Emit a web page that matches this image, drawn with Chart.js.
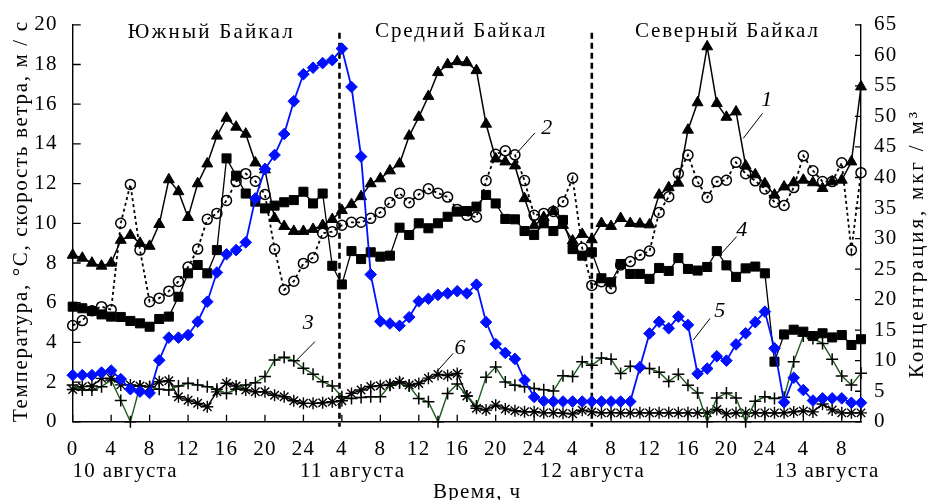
<!DOCTYPE html>
<html lang="ru">
<head>
<meta charset="utf-8">
<title>Байкал, 10–13 августа</title>
<script src="https://cdn.jsdelivr.net/npm/chart.js@4.4.1/dist/chart.umd.min.js"></script>
<style>
  html, body { margin: 0; padding: 0; background: #fff; }
  #wrap { width: 927px; height: 500px; }
</style>
</head>
<body>
<div id="wrap"><canvas id="chart" width="927" height="500"></canvas></div>
<script>
// время, ч (от 0 ч 10 августа)
const hours = [0,1,2,3,4,5,6,7,8,9,10,11,12,13,14,15,16,17,18,19,20,21,22,23,24,25,26,27,28,29,
  30,31,32,33,34,35,36,37,38,39,40,41,42,43,44,45,46,47,48,49,50,51,52,53,54,55,56,57,58,59,
  60,61,62,63,64,65,66,67,68,69,70,71,72,73,74,75,76,77,78,79,80,81,82];

// 1 - треугольники
const s1 = [8.4, 8.25, 8.0, 7.85, 8.0, 9.15, 9.4, 9.0, 8.85, 9.95,
  12.2, 11.6, 10.3, 12.0, 13.0, 14.4, 15.3, 14.85, 14.5, 13.05,
  12.7, 10.25, 9.85, 9.6, 9.6, 9.7, 9.9, 10.2, 10.65, 10.95,
  11.35, 12.0, 12.25, 12.65, 13.0, 14.4, 15.35, 16.4, 17.6, 18.0,
  18.15, 18.1, 17.7, 15.0, 13.25, 13.1, 12.9, 11.25, 9.88, 10.3,
  10.6, 9.9, 9.12, 9.45, 9.18, 10.0, 9.85, 10.25, 10.0, 9.97,
  9.93, 11.43, 11.8, 12.03, 14.7, 16.08, 18.9, 16.04, 15.35, 15.62,
  12.9, 12.45, 12.0, 11.43, 11.84, 12.05, 12.18, 12.05, 11.76, 12.1,
  12.18, 13.1, 16.88];
// 2 - кружки
const s2 = [4.85, 5.1, 5.6, 5.8, 5.65, 10.0, 11.96, 8.65, 6.05, 6.23,
  6.58, 7.07, 7.8, 8.7, 10.2, 10.5, 11.15, 12.1, 12.5, 12.12,
  11.45, 8.7, 6.65, 7.08, 7.98, 8.27, 9.5, 9.58, 9.9, 10.05,
  10.05, 10.25, 10.55, 11.05, 11.52, 11.04, 11.45, 11.74, 11.52, 11.32,
  10.7, 10.4, 10.32, 12.15, 13.48, 13.65, 13.45, 12.15, 10.4, 10.5,
  10.6, 11.09, 12.28, 8.75, 6.87, 7.06, 6.72, 7.9, 8.07, 8.4,
  8.6, 10.55, 11.34, 12.51, 13.44, 12.1, 11.3, 12.1, 12.17, 13.07,
  12.5, 12.14, 11.73, 11.06, 10.9, 11.8, 13.4, 12.65, 12.1, 12.1,
  13.05, 8.65, 12.55];
// 3 - крестики
const s3 = [1.86, 1.6, 1.6, 1.77, 2.1, 1.07, 0, 1.8, 1.77, 1.64,
  1.6, 1.8, 1.94, 1.86, 1.77, 1.64, 1.43, 1.64, 1.86, 1.97,
  2.28, 3.11, 3.25, 3.08, 2.7, 2.4, 2.02, 1.8, 1.26, 1.18,
  1.23, 1.26, 1.26, 1.84, 1.95, 1.8, 1.18, 1.01, 0, 1.43,
  1.9, 1.3, 0.8, 2.25, 2.76, 2.0, 1.84, 1.77, 1.68, 1.62,
  1.55, 2.32, 2.28, 3.03, 2.85, 3.21, 3.15, 2.43, 2.8, 2.74,
  2.68, 2.5, 2.03, 2.4, 1.84, 1.45, 0, 1.2, 1.45, 1.2,
  0, 1.03, 1.26, 1.18, 1.24, 3.03, 4.32, 4.2, 3.95, 3.15,
  2.31, 1.85, 2.44];
// 4 - квадраты
const s4 = [5.8, 5.72, 5.58, 5.41, 5.3, 5.28, 5.08, 4.96, 4.79, 5.18,
  5.3, 6.3, 7.48, 7.9, 7.48, 8.65, 13.27, 12.4, 11.5, 11.09,
  10.75, 10.89, 11.06, 11.17, 11.59, 11.0, 11.5, 7.86, 6.92, 8.6,
  8.2, 8.54, 8.32, 8.37, 9.78, 9.41, 10.0, 9.75, 10.0, 10.33,
  10.59, 10.62, 10.84, 11.43, 11.0, 10.22, 10.2, 9.61, 9.41, 10.0,
  9.61, 10.17, 8.7, 8.37, 8.54, 7.23, 7.03, 7.95, 7.45, 7.45,
  7.2, 7.75, 7.6, 8.25, 7.7, 7.62, 7.8, 8.6, 7.88, 7.3,
  7.73, 7.82, 7.48, 3.03, 4.4, 4.64, 4.54, 4.32, 4.46, 4.25,
  4.37, 3.87, 4.16];
// 5 - синие ромбы
const s5 = [2.35, 2.35, 2.35, 2.48, 2.58, 2.15, 1.64, 1.52, 1.45, 3.1,
  4.24, 4.24, 4.37, 5.04, 6.05, 7.52, 8.44, 8.65, 9.04, 11.25,
  12.73, 13.44, 14.5, 16.15, 17.51, 17.84, 18.07, 18.22, 18.8, 16.87,
  13.36, 7.42, 5.06, 4.95, 4.84, 5.27, 6.07, 6.2, 6.39, 6.47,
  6.58, 6.47, 6.91, 5.02, 3.92, 3.47, 3.17, 2.1, 1.25, 1.05,
  1.02, 1.02, 1.02, 1.02, 1.02, 1.02, 1.02, 1.02, 1.02, 2.75,
  4.45, 5.04, 4.71, 5.3, 4.88, 2.42, 2.68, 3.3, 3.08, 3.9,
  4.46, 5.02, 5.55, 3.7, 0.98, 2.22, 1.6, 1.07, 1.18, 1.18,
  1.18, 0.96, 0.96];
// 6 - звездочки
const s6 = [1.63, 1.77, 1.8, 2.19, 2.19, 1.86, 1.86, 1.8, 1.77, 2.02,
  2.07, 1.26, 1.09, 0.93, 0.76, 1.51, 1.94, 1.8, 1.6, 1.51,
  1.51, 1.34, 1.26, 1.06, 0.93, 0.93, 0.96, 1.01, 1.06, 1.43,
  1.6, 1.78, 1.82, 1.88, 2.02, 1.85, 1.93, 2.2, 2.38, 2.33,
  2.43, 1.3, 0.68, 0.59, 0.84, 0.65, 0.56, 0.51, 0.51, 0.45,
  0.46, 0.43, 0.4, 0.58, 0.5, 0.45, 0.46, 0.45, 0.45, 0.45,
  0.45, 0.45, 0.45, 0.45, 0.45, 0.45, 0.45, 0.62, 0.4, 0.45,
  0.45, 0.45, 0.45, 0.45, 0.45, 0.5, 0.55, 0.5, 0.9, 0.6,
  0.45, 0.45, 0.45];

// подписи осей
const xTicks = [0,4,8,12,16,20,24,28,32,36,40,44,48,52,56,60,64,68,72,76,80];
const xTickLabels = ['0','4','8','12','16','20','24','4','8','12','16','20','24','4','8','12','16','20','24','4','8'];
const dates = ['10 августа', '11 августа', '12 августа', '13 августа'];
const dateAt = [5.4, 29.05, 54.0, 78.4];
const regions = ['Южный Байкал', 'Средний Байкал', 'Северный Байкал'];
const regionAt = [14.3, 40.3, 68.0];
const dividers = [27.75, 54];
// номера кривых: [текст, ч, значение, линия от (ч, знач) до (ч, знач)]
const curveNums = [
  ['1', 72.2, 16.2, 71.76, 15.54, 69.75, 14.28],
  ['2', 49.3, 14.8, 48.08, 14.55, 46.18, 13.53],
  ['3', 24.5, 4.96, 25.2, 4.04, 23.3, 3.11],
  ['4', 69.6, 9.66, 69.06, 9.33, 67.5, 8.49],
  ['5', 67.3, 5.55, 66.3, 5.21, 64.55, 4.12],
  ['6', 40.3, 3.7, 39.58, 3.45, 37.86, 2.52]
];

const FONT = "'Liberation Serif', 'DejaVu Serif', serif";
Chart.defaults.font.family = FONT;
Chart.defaults.color = '#000';

function pts(vals) {
  return hours.map((h, i) => ({x: h, y: vals[i]}));
}

// растянуть текст до нужной ширины
function fitText(ctx, text, x, y, width) {
  ctx.letterSpacing = '0px';
  const w0 = ctx.measureText(text).width;
  const sp = Math.max(0, (width - w0) / Math.max(1, text.length - 1));
  ctx.letterSpacing = sp.toFixed(2) + 'px';
  ctx.fillText(text, x + sp / 2, y);
}

const decor = {
  id: 'decor',
  beforeDraw(chart) {
    const ctx = chart.ctx;
    ctx.save();
    ctx.fillStyle = '#fff';
    ctx.fillRect(0, 0, chart.width, chart.height);
    ctx.restore();
    ctx.letterSpacing = '1.2px';
  },
  beforeDatasetsDraw(chart) {
    const {ctx, chartArea: a, scales: {x}} = chart;
    ctx.save();
    ctx.strokeStyle = '#000';
    ctx.lineWidth = 2.6;
    ctx.setLineDash([6, 4]);
    dividers.forEach(h => {
      const px = x.getPixelForValue(h);
      ctx.beginPath();
      ctx.moveTo(px, a.top + 8);
      ctx.lineTo(px, a.bottom + 5);
      ctx.stroke();
    });
    ctx.restore();
  },
  afterDraw(chart) {
    const {ctx, chartArea: a, scales: {x, y, y2}} = chart;
    ctx.save();
    // засечки внутрь
    ctx.strokeStyle = '#000';
    ctx.lineWidth = 1.3;
    ctx.beginPath();
    xTicks.forEach(v => {
      const px = x.getPixelForValue(v);
      ctx.moveTo(px, a.bottom); ctx.lineTo(px, a.bottom - 7);
    });
    y.ticks.forEach(t => {
      const py = y.getPixelForValue(t.value);
      ctx.moveTo(a.left, py); ctx.lineTo(a.left + 8, py);
    });
    y2.ticks.forEach(t => {
      const py = y2.getPixelForValue(t.value);
      ctx.moveTo(a.right, py); ctx.lineTo(a.right - 6, py);
    });
    ctx.stroke();

    ctx.fillStyle = '#000';
    ctx.textAlign = 'center';
    ctx.textBaseline = 'alphabetic';
    ctx.font = '21px ' + FONT;
    const regY = [38, 36.5, 36.5], regW = [165, 170, 183];
    regions.forEach((r, i) => fitText(ctx, r, x.getPixelForValue(regionAt[i]), regY[i], regW[i]));

    dates.forEach((d, i) => fitText(ctx, d, x.getPixelForValue(dateAt[i]), 477, 104));
    fitText(ctx, 'Время, ч', 476.5, 498, 87);

    // подписи осей Y
    ctx.save();
    ctx.translate(27, 222);
    ctx.rotate(-Math.PI / 2);
    fitText(ctx, 'Температура, °С, скорость ветра, м / с', 0, 0, 400);
    ctx.restore();
    ctx.save();
    ctx.translate(923, 245);
    ctx.rotate(-Math.PI / 2);
    fitText(ctx, 'Концентрация, мкг / м³', 0, 0, 266);
    ctx.restore();

    // номера кривых
    ctx.letterSpacing = '0px';
    ctx.font = 'italic 22px ' + FONT;
    ctx.textBaseline = 'middle';
    ctx.lineWidth = 1;
    curveNums.forEach(([t, hx, vy, h1, v1, h2, v2]) => {
      ctx.fillText(t, x.getPixelForValue(hx), y.getPixelForValue(vy));
      ctx.beginPath();
      ctx.moveTo(x.getPixelForValue(h1), y.getPixelForValue(v1));
      ctx.lineTo(x.getPixelForValue(h2), y.getPixelForValue(v2));
      ctx.stroke();
    });
    ctx.restore();
  }
};

const tickFont = {size: 21, family: FONT};

new Chart(document.getElementById('chart'), {
  type: 'line',
  data: {
    datasets: [
      { label: '5', data: pts(s5), borderColor: '#0010ff', borderWidth: 1.8,
        pointStyle: 'rectRot', pointRadius: 5.8, pointBackgroundColor: '#0010ff',
        pointBorderColor: '#0010ff', pointBorderWidth: 1 },
      { label: '1', data: pts(s1), borderColor: '#000', borderWidth: 1.5,
        pointStyle: 'triangle', pointRadius: 6.3, pointBackgroundColor: '#000',
        pointBorderColor: '#000', pointBorderWidth: 1 },
      { label: '4', data: pts(s4), borderColor: '#000', borderWidth: 1.3,
        pointStyle: 'rect', pointRadius: 6.4, pointBackgroundColor: '#000',
        pointBorderColor: '#000', pointBorderWidth: 1 },
      { label: '2', data: pts(s2), borderColor: '#000', borderWidth: 1.8, borderDash: [3, 3],
        pointStyle: 'circle', pointRadius: 5, pointBackgroundColor: 'rgba(255,255,255,0)',
        pointBorderColor: '#000', pointBorderWidth: 1.5 },
      { label: '3', data: pts(s3), borderColor: '#1f5c1f', borderWidth: 1.4,
        pointStyle: 'cross', pointRadius: 6, pointBorderColor: '#000', pointBorderWidth: 1.5 },
      { label: '6', data: pts(s6), borderColor: '#000', borderWidth: 1.4,
        pointStyle: 'star', pointRadius: 6, pointBorderColor: '#000', pointBorderWidth: 1.4 }
    ].map(d => Object.assign({ tension: 0, fill: false, clip: false, yAxisID: 'y' }, d))
  },
  options: {
    responsive: false,
    devicePixelRatio: 1,
    animation: false,
    events: [],
    layout: { padding: { top: 24.8, left: 0, right: 0, bottom: 0 } },
    plugins: { legend: { display: false }, tooltip: { enabled: false } },
    scales: {
      x: {
        type: 'linear', min: 0, max: 82,
        afterFit: s => { s.height = 78.2; },
        afterBuildTicks: s => { s.ticks = xTicks.map(v => ({value: v})); },
        ticks: { callback: (v, i) => xTickLabels[i], padding: 7, maxRotation: 0,
                 autoSkip: false, includeBounds: false, font: tickFont, color: '#000' },
        grid: { display: false },
        border: { display: true, color: '#000', width: 1.4 }
      },
      y: {
        position: 'left', min: 0, max: 20,
        afterFit: s => { s.width = 72.7; },
        ticks: { stepSize: 2, padding: 7, font: tickFont, color: '#000' },
        grid: { display: false },
        border: { display: true, color: '#000', width: 1.4 }
      },
      y2: {
        position: 'right', min: 0, max: 65,
        afterFit: s => { s.width = 66; },
        ticks: { stepSize: 5, padding: 5, font: tickFont, color: '#000' },
        grid: { display: false },
        border: { display: true, color: '#000', width: 1.4 }
      }
    }
  },
  plugins: [decor]
});
</script>
</body>
</html>
